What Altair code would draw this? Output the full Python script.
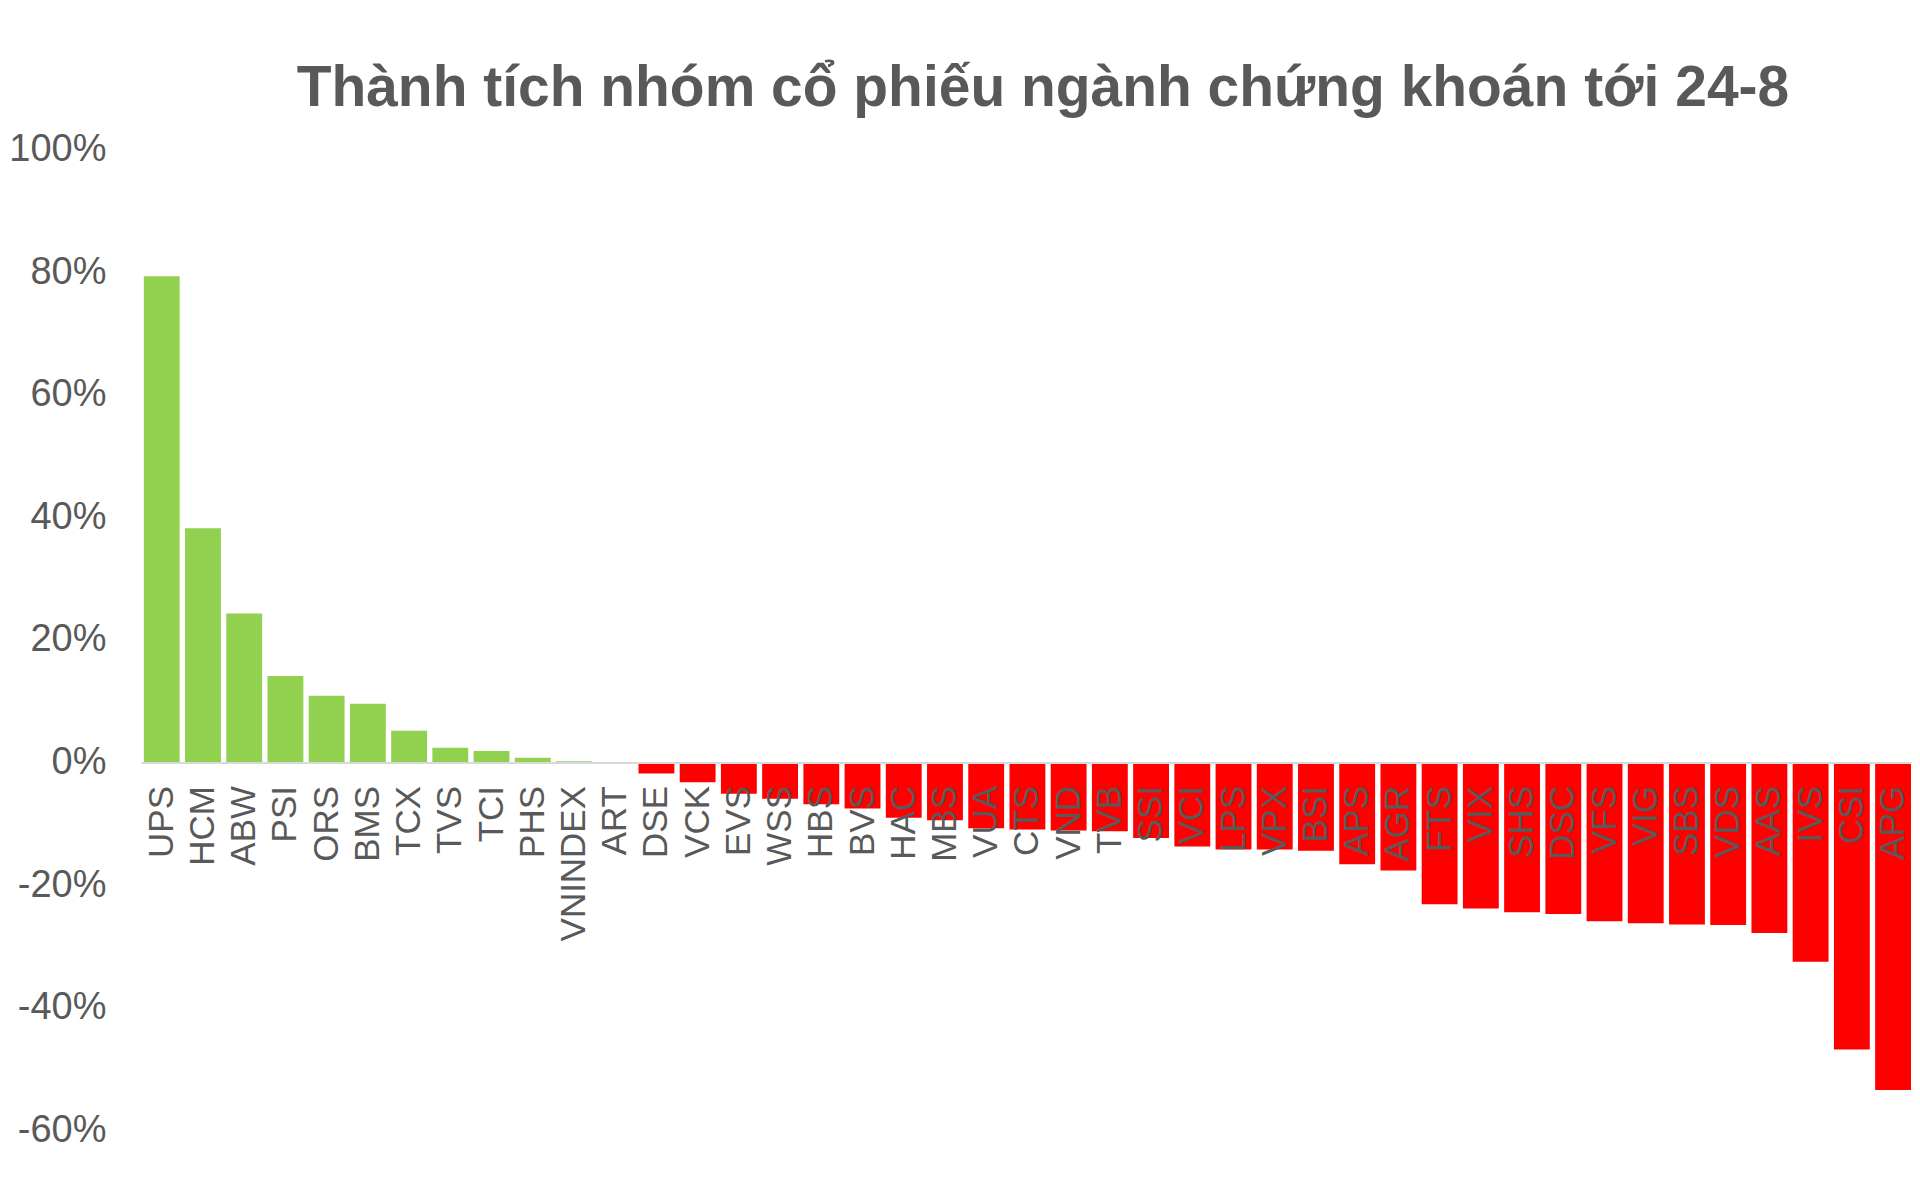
import altair as alt
import pandas as pd

# mã cổ phiếu, theo thứ tự trên trục
tickers = [
    "UPS", "HCM", "ABW", "PSI", "ORS", "BMS", "TCX", "TVS", "TCI", "PHS",
    "VNINDEX", "ART", "DSE", "VCK", "EVS", "WSS", "HBS", "BVS", "HAC", "MBS",
    "VUA", "CTS", "VND", "TVB", "SSI", "VCI", "LPS", "VPX", "BSI", "APS",
    "AGR", "FTS", "VIX", "SHS", "DSC", "VFS", "VIG", "SBS", "VDS", "AAS",
    "IVS", "CSI", "APG",
]
# thay đổi (%) tới 24-8
changes = [
    79.3, 38.2, 24.3, 14.1, 10.9, 9.6, 5.2, 2.4, 1.9, 0.8,
    0.2, 0.1, -1.8, -3.2, -5.1, -5.9, -6.8, -7.5, -9.0, -9.4,
    -10.7, -10.9, -11.1, -11.2, -12.3, -13.7, -14.2, -14.2, -14.4, -16.6,
    -17.6, -23.1, -23.8, -24.4, -24.7, -25.9, -26.2, -26.4, -26.5, -27.8,
    -32.5, -46.8, -53.4,
]
y_ticks = [-60, -40, -20, 0, 20, 40, 60, 80, 100]

df = pd.DataFrame({"ma": tickers, "thay_doi": changes})
df["xu_huong"] = ["tăng" if v >= 0 else "giảm" for v in changes]

PLOT_W = 1772
PLOT_H = 982
Y_MIN, Y_MAX = y_ticks[0], y_ticks[-1]
GRAY = "#595959"
FONT = "Liberation Sans"

# x axis sits on the zero line, not at the bottom of the plot
zero_offset = -PLOT_H * (0 - Y_MIN) / (Y_MAX - Y_MIN)

chart = alt.Chart(
    df,
    title=alt.TitleParams(
        "Thành tích nhóm cổ phiếu ngành chứng khoán tới 24-8",
        fontSize=57,
        fontWeight="bold",
        font=FONT,
        color=GRAY,
        anchor="middle",
        dx=17,
        offset=12,
    ),
).mark_bar().encode(
    x=alt.X(
        "ma:N",
        sort=tickers,
        scale=alt.Scale(paddingInner=0.13, paddingOuter=0.036, align=1),
        axis=alt.Axis(
            title=None,
            orient="bottom",
            offset=zero_offset,
            labelAngle=-90,
            labelFontSize=35,
            labelFont=FONT,
            labelColor=GRAY,
            labelPadding=23,
            labelOverlap=False,
            ticks=False,
            tickSize=0,
            domainColor="#d9d9d9",
            domainWidth=2,
            zindex=1,
        ),
    ),
    y=alt.Y(
        "thay_doi:Q",
        scale=alt.Scale(domain=[Y_MIN, Y_MAX], nice=False),
        axis=alt.Axis(
            title=None,
            values=y_ticks,
            labelExpr="datum.value + '%'",
            labelFontSize=38,
            labelFont=FONT,
            labelColor=GRAY,
            labelPadding=35,
            ticks=False,
            domain=False,
            grid=False,
        ),
    ),
    color=alt.Color(
        "xu_huong:N",
        scale=alt.Scale(domain=["tăng", "giảm"], range=["#92D050", "#FF0000"]),
        legend=None,
    ),
    tooltip=["ma", "thay_doi"],
).properties(
    width=PLOT_W,
    height=PLOT_H,
    background="white",
    padding={"left": 0, "top": 52, "right": 0, "bottom": 0},
).configure_view(
    strokeWidth=0
)

chart.save("out.html", embed_options={"renderer": "svg", "actions": False})
